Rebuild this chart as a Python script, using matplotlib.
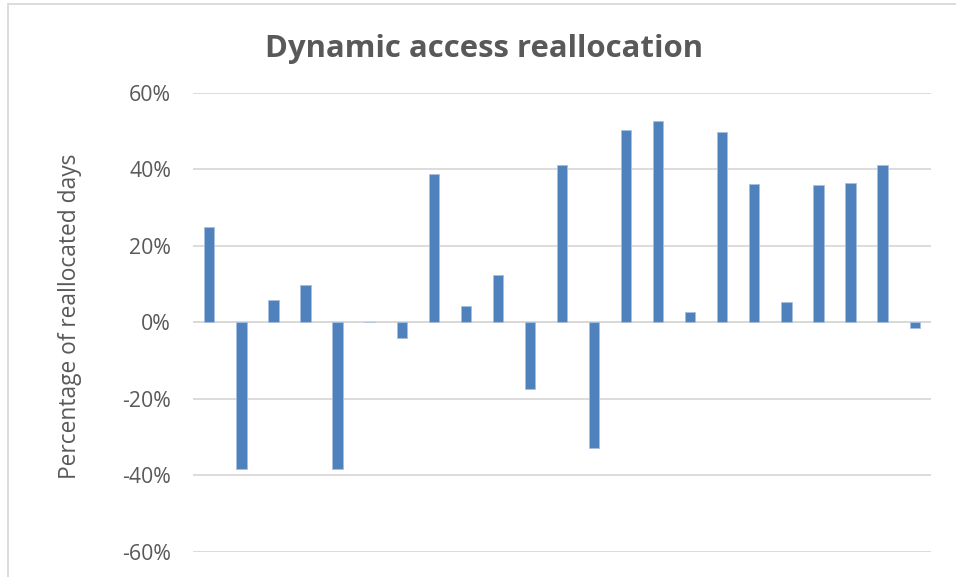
import numpy as np
import matplotlib
matplotlib.use("Agg")
import matplotlib.pyplot as plt
from matplotlib.patches import Rectangle
from matplotlib.ticker import PercentFormatter

# share of reallocated days per slot (no category labels shown in the chart)
slots = list(range(1, 24))
realloc = [25.0, -38.3, 5.9, 9.7, -38.5, 0.0, -4.1, 38.7, 4.3, 12.3, -17.5, 41.2,
           -32.9, 50.3, 52.7, 2.8, 49.7, 36.2, 5.3, 35.8, 36.4, 41.1, -1.4]
yticks = [-60, -40, -20, 0, 20, 40, 60]

plt.rcParams['font.family'] = ['Open Sans', 'DejaVu Sans']
plt.rcParams['axes.unicode_minus'] = False
grey = '#595959'
grid = '#D9D9D9'

fig = plt.figure(figsize=(9.56, 5.77), dpi=100)
ax = fig.add_axes([0.2022, 0.0438, 0.7713, 0.7955])

x = np.arange(len(slots))
ax.bar(x, np.array(realloc) / 100, width=0.32, color='#4F81BD',
       edgecolor='#A7C0E0', linewidth=0.6, zorder=3)

ax.set_xlim(-0.5, len(slots) - 0.5)
ax.set_ylim(-0.6, 0.6)
ax.set_yticks([t / 100 for t in yticks])
ax.yaxis.set_major_formatter(PercentFormatter(1.0, decimals=0))
ax.tick_params(axis='y', length=0, pad=16, labelsize=15.3, labelcolor=grey)
ax.set_xticks([])
ax.grid(axis='y', color=grid, linewidth=1.3, zorder=0)
for s in ax.spines.values():
    s.set_visible(False)
ax.axhline(0, color=grid, linewidth=1.3, zorder=2)

ax.set_ylabel('Percentage of reallocated days', fontsize=16.4, color=grey)
ax.yaxis.set_label_coords(-0.151, 0.513)

fig.text(0.5068, 0.9012, 'Dynamic access reallocation', ha='center', va='baseline',
         fontsize=22.4, fontweight='bold', color=grey)

# chart-area border (left and top visible, rest cropped)
fig.patches.append(Rectangle((7.5 / 956, -0.1), 1.2, 1 - 3.5 / 577 + 0.1,
                             transform=fig.transFigure, fill=False,
                             edgecolor=grid, linewidth=1.3))

fig.savefig('out.png', dpi=100)
